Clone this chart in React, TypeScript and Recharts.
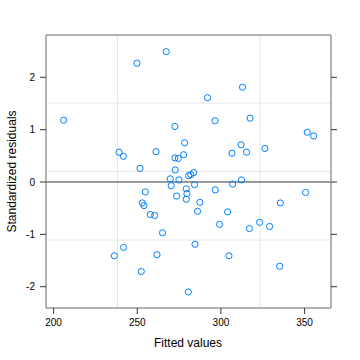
import { ScatterChart, Scatter, XAxis, YAxis, ReferenceLine } from "recharts";

const fittedValues = [
  267.3, 249.8, 206.0, 272.5, 278.3, 239.1, 241.7, 261.2, 272.5, 274.5,
  277.7, 251.6, 272.7, 269.7, 274.9, 280.7, 282.0, 283.7, 312.9, 292.0,
  296.5, 317.4, 351.6, 355.4, 312.0, 306.6, 315.3, 326.3, 312.3, 270.3,
  284.2, 254.8, 279.3, 279.7, 273.5, 279.3, 287.4, 253.0, 254.0, 286.0,
  257.8, 260.4, 265.1, 284.5, 241.8, 236.3, 261.8, 252.4, 280.5, 307.0,
  296.6, 350.6, 335.5, 304.0, 299.2, 323.1, 317.0, 329.1, 304.8, 335.1,
];

const stdResiduals = [
  2.49, 2.27, 1.18, 1.06, 0.75, 0.57, 0.49, 0.58, 0.46, 0.45,
  0.52, 0.26, 0.23, 0.06, 0.04, 0.12, 0.14, 0.18, 1.81, 1.61,
  1.17, 1.22, 0.95, 0.88, 0.71, 0.55, 0.57, 0.64, 0.04, -0.07,
  -0.05, -0.19, -0.13, -0.22, -0.27, -0.33, -0.39, -0.4, -0.45, -0.56,
  -0.62, -0.64, -0.97, -1.19, -1.25, -1.41, -1.39, -1.71, -2.1, -0.04,
  -0.15, -0.2, -0.4, -0.57, -0.81, -0.77, -0.89, -0.85, -1.41, -1.61,
];

const xTicks = [200, 250, 300, 350];
const yTicks = [-2, -1, 0, 1, 2];
const xGrid = [238.2, 323.3];
const yGrid = [1.51, 0.2, -1.11];

const points = fittedValues.map((x, i) => ({ x, y: stdResiduals[i] }));

const FONT = "'Liberation Sans', Arial, Helvetica, sans-serif";
const xDomain = [195.46, 365.78];
const yDomain = [-2.407, 2.808];

const frame = { stroke: "#999999", strokeWidth: 1.5 };
const tickMark = { stroke: "#333333" };

const Ring = (props: any) => (
  <circle cx={props.cx} cy={props.cy} r={3.1} fill="none" stroke="#0080ff" strokeWidth={1} />
);

export default function App() {
  return (
    <div style={{ position: "absolute", left: 0, top: 0, width: 360, height: 360, fontFamily: FONT }}>
      <ScatterChart width={360} height={360} margin={{ top: 34, right: 28, bottom: 22, left: 0 }}>
        <XAxis
          type="number"
          dataKey="x"
          domain={xDomain}
          allowDataOverflow
          ticks={xTicks}
          height={30}
          tickSize={6}
          tickMargin={5}
          axisLine={frame}
          tickLine={tickMark}
          tick={{ fill: "#000", fontSize: 10, fontFamily: FONT }}
        />
        <XAxis
          xAxisId="top"
          orientation="top"
          type="number"
          domain={xDomain}
          allowDataOverflow
          ticks={xTicks}
          height={1}
          tickSize={6}
          axisLine={frame}
          tickLine={tickMark}
          tick={() => <g />}
        />
        <YAxis
          type="number"
          dataKey="y"
          domain={yDomain}
          allowDataOverflow
          ticks={yTicks}
          width={46}
          tickSize={6}
          tickMargin={5}
          axisLine={frame}
          tickLine={tickMark}
          tick={{ fill: "#000", fontSize: 10, fontFamily: FONT }}
        />
        <YAxis
          yAxisId="right"
          orientation="right"
          type="number"
          domain={yDomain}
          allowDataOverflow
          ticks={yTicks}
          width={1}
          tickSize={6}
          axisLine={frame}
          tickLine={tickMark}
          tick={() => <g />}
        />
        {xGrid.map((v) => (
          <ReferenceLine key={`gx-${v}`} x={v} stroke="#e6e6e6" strokeWidth={1} />
        ))}
        {yGrid.map((v) => (
          <ReferenceLine key={`gy-${v}`} y={v} stroke="#e6e6e6" strokeWidth={1} />
        ))}
        <ReferenceLine y={0} stroke="#333333" strokeWidth={1} />
        <Scatter data={points} shape={Ring} isAnimationActive={false} />
      </ScatterChart>
      <svg width={360} height={360} style={{ position: "absolute", left: 0, top: 0, pointerEvents: "none" }}>
        <text x={188} y={343} textAnchor="middle" dominantBaseline="central" fontSize={12} fontFamily={FONT} fill="#000">
          Fitted values
        </text>
        <text
          x={12}
          y={171.5}
          textAnchor="middle"
          dominantBaseline="central"
          fontSize={12}
          fontFamily={FONT}
          fill="#000"
          transform="rotate(-90 12 171.5)"
        >
          Standardized residuals
        </text>
      </svg>
    </div>
  );
}
